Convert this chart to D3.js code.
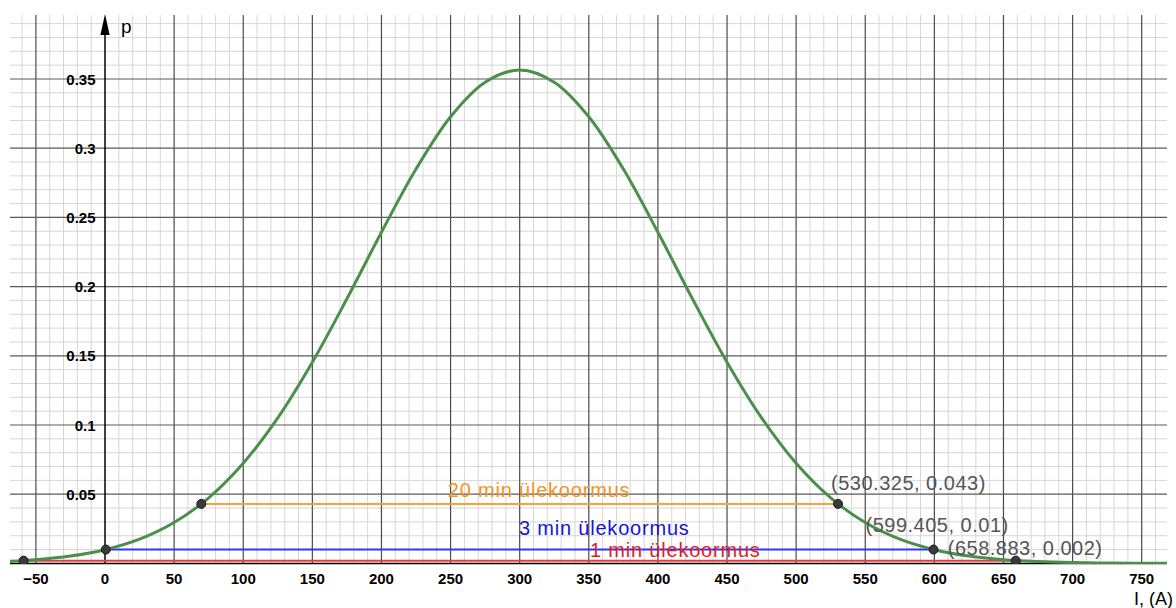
<!DOCTYPE html>
<html>
<head>
<meta charset="utf-8">
<script src="https://cdn.jsdelivr.net/npm/d3@7/dist/d3.min.js"></script>
<style>
  html, body { margin: 0; padding: 0; background: #fff; }
  svg { display: block; }
  text { font-family: "Liberation Sans", Arial, sans-serif; }
</style>
</head>
<body>
<svg id="chart" width="1176" height="608"></svg>
<script>
// ---- data ----
const xTicks = [-50, 0, 50, 100, 150, 200, 250, 300, 350, 400, 450, 500, 550, 600, 650, 700, 750];
const yTicks = [0.05, 0.1, 0.15, 0.2, 0.25, 0.3, 0.35];
const yTickLabels = ["0.05", "0.1", "0.15", "0.2", "0.25", "0.3", "0.35"];

// density curve p(I)
const curveI = [-75, -50, -25, 0, 25, 50, 75, 100, 125, 150, 175, 200, 225, 250, 275, 300,
                325, 350, 375, 400, 425, 450, 475, 500, 525, 550, 575, 600, 625, 650, 675, 700, 725, 750, 775];
const curveP = [0.0013, 0.0027, 0.0053, 0.0099, 0.0175, 0.0295, 0.0474, 0.0724, 0.1052, 0.1454,
                0.1912, 0.2393, 0.2849, 0.3227, 0.3477, 0.3565, 0.3477, 0.3227, 0.2849, 0.2393,
                0.1912, 0.1454, 0.1052, 0.0724, 0.0474, 0.0295, 0.0175, 0.0099, 0.0053, 0.0027,
                0.0013, 0.0006, 0.0003, 0.0001, 0.0000];

// overload levels
const levelNames = ["20 min ülekoormus", "3 min ülekoormus", "1 min ülekoormus"];
const levelP     = [0.043, 0.01, 0.002];
const levelFrom  = [69.675, 0.595, -58.883];
const levelTo    = [530.325, 599.405, 658.883];
const levelLabels = ["(530.325, 0.043)", "(599.405, 0.01)", "(658.883, 0.002)"];

// ---- layout / style ----
const W = 1176, H = 608;
const view = { left: 10, right: 1167, top: 15, bottom: 564 };
const x = d3.scaleLinear().domain([-50, 750]).range([35.9, 1141.7]);
const y = d3.scaleLinear().domain([0, 0.35]).range([563.4, 79]);
const levelColors = ["#f7a23c", "#3535f0", "#e83c3c"];
const levelTextColors = ["#f39424", "#1414d8", "#e01e1e"];
const nameOffset = [[248, 0.048], [299.5, 0.0205], [350.9, 0.0046]]; // text anchor in data units
const coordOffset = [[-7, -14], [-68, -18], [-68, -6]];               // px offset from point

const svg = d3.select("#chart");

svg.append("defs").append("clipPath").attr("id", "clip")
  .append("rect").attr("x", view.left).attr("y", view.top)
  .attr("width", view.right - view.left).attr("height", view.bottom - view.top);

const grid = svg.append("g").attr("clip-path", "url(#clip)");

const iMin = x.invert(view.left), iMax = x.invert(view.right);
const pMin = y.invert(view.bottom), pMax = y.invert(view.top);

// minor grid
const minorX = d3.range(Math.ceil(iMin / 10) * 10, iMax, 10).filter(v => v % 50 !== 0);
const minorY = d3.range(0.01, pMax, 0.01).filter(v => Math.abs(v / 0.05 - Math.round(v / 0.05)) > 1e-6);
grid.selectAll(".mx").data(minorX).join("line")
  .attr("x1", d => x(d)).attr("x2", d => x(d)).attr("y1", view.top).attr("y2", view.bottom)
  .attr("stroke", "#d6d6d6").attr("stroke-width", 1);
grid.selectAll(".my").data(minorY).join("line")
  .attr("y1", d => y(d)).attr("y2", d => y(d)).attr("x1", view.left).attr("x2", view.right)
  .attr("stroke", "#d6d6d6").attr("stroke-width", 1);

// major grid
const majorX = d3.range(Math.ceil(iMin / 50) * 50, iMax, 50).filter(v => v !== 0);
const majorY = d3.range(0.05, pMax, 0.05);
grid.selectAll(".Mx").data(majorX).join("line")
  .attr("x1", d => x(d)).attr("x2", d => x(d)).attr("y1", view.top).attr("y2", view.bottom)
  .attr("stroke", "#4a4a4a").attr("stroke-width", 1.2);
grid.selectAll(".My").data(majorY).join("line")
  .attr("y1", d => y(d)).attr("y2", d => y(d)).attr("x1", view.left).attr("x2", view.right)
  .attr("stroke", "#5a5a5a").attr("stroke-width", 1.2);

// axes
svg.append("line").attr("x1", view.left).attr("x2", view.right).attr("y1", y(0)).attr("y2", y(0))
  .attr("stroke", "#000").attr("stroke-width", 1.5);
svg.append("line").attr("x1", x(0)).attr("x2", x(0)).attr("y1", 30).attr("y2", y(0))
  .attr("stroke", "#000").attr("stroke-width", 1.5);
svg.append("path")
  .attr("d", `M${x(0)},14 L${x(0) - 4.6},35 L${x(0) + 4.6},35 Z`).attr("fill", "#000");
svg.append("text").attr("x", 121).attr("y", 33).attr("font-size", 19).attr("fill", "#000").text("p");
svg.append("text").attr("x", 1173).attr("y", 605).attr("text-anchor", "end")
  .attr("font-size", 18).attr("fill", "#000").text("I, (A)");

// tick labels
svg.selectAll(".xt").data(xTicks).join("text")
  .attr("x", d => x(d)).attr("y", 584).attr("text-anchor", "middle")
  .attr("font-size", 15).attr("font-weight", "bold").attr("fill", "#000")
  .text(d => d < 0 ? "\u2212" + Math.abs(d) : String(d));
svg.selectAll(".yt").data(yTicks).join("text")
  .attr("x", 95.5).attr("y", d => y(d) + 5.5).attr("text-anchor", "end")
  .attr("font-size", 15).attr("font-weight", "bold").attr("fill", "#000")
  .text((d, i) => yTickLabels[i]);

// level lines
const plot = svg.append("g").attr("clip-path", "url(#clip)");
plot.selectAll(".lvl").data(levelP).join("line")
  .attr("x1", (d, i) => x(levelFrom[i])).attr("x2", (d, i) => x(levelTo[i]))
  .attr("y1", d => y(d)).attr("y2", d => y(d))
  .attr("stroke", (d, i) => levelColors[i]).attr("stroke-width", 2);

// curve
const curveData = curveI.map((v, i) => [v, curveP[i]]);
plot.append("path").datum(curveData)
  .attr("d", d3.line().x(d => x(d[0])).y(d => y(d[1])).curve(d3.curveCatmullRom.alpha(0.5)))
  .attr("fill", "none").attr("stroke", "#4a8f4a").attr("stroke-width", 3);

// level names
svg.selectAll(".lname").data(levelNames).join("text")
  .attr("x", (d, i) => x(nameOffset[i][0])).attr("y", (d, i) => y(nameOffset[i][1]))
  .attr("font-size", 20).attr("letter-spacing", 0.8)
  .attr("fill", (d, i) => levelTextColors[i]).text(d => d);

// points
const pts = [];
levelP.forEach((p, i) => { pts.push([levelFrom[i], p]); pts.push([levelTo[i], p]); });
plot.selectAll(".pt").data(pts).join("circle")
  .attr("cx", d => x(d[0])).attr("cy", d => y(d[1])).attr("r", 4.5)
  .attr("fill", "#3a3a3a").attr("stroke", "#1a1a1a").attr("stroke-width", 1);

// coordinate labels
svg.selectAll(".clab").data(levelLabels).join("text")
  .attr("x", (d, i) => x(levelTo[i]) + coordOffset[i][0])
  .attr("y", (d, i) => y(levelP[i]) + coordOffset[i][1])
  .attr("font-size", 20).attr("letter-spacing", 0.5).attr("fill", "#555").text(d => d);
</script>
</body>
</html>
